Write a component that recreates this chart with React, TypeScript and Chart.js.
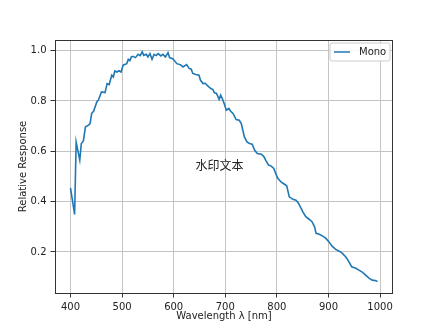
import React, { useEffect, useRef } from "react";
import { Chart, registerables } from "chart.js";

Chart.register(...registerables);

const wavelengths: number[] = [
  400, 408, 411, 418, 421, 425, 429, 435, 438, 441, 445, 451, 454, 460, 467, 471, 475, 480, 483, 486,
  490, 494, 498, 502, 509, 512, 515, 518, 521, 526, 531, 535, 539, 542, 547, 550, 554, 558, 562, 566,
  570, 575, 579, 584, 589, 592, 598, 602, 606, 613, 618, 625, 630, 634, 637, 643, 649, 652, 657, 661,
  666, 672, 676, 679, 683, 688, 691, 694, 699, 702, 707, 710, 715, 721, 727, 731, 737, 742, 747, 752,
  757, 762, 770, 775, 779, 784, 789, 794, 799, 802, 808, 814, 819, 824, 831, 837, 842, 847, 850, 856,
  863, 868, 873, 876, 882, 889, 895, 901, 907, 914, 921, 927, 934, 940, 945, 953, 959, 966, 972, 979,
  985, 992, 995,
];

const monoResponse: number[] = [
  0.455, 0.349, 0.637, 0.565, 0.631, 0.641, 0.697, 0.704, 0.71, 0.75, 0.76, 0.796, 0.803, 0.836, 0.833, 0.869, 0.865, 0.902, 0.895, 0.919,
  0.915, 0.92, 0.915, 0.942, 0.948, 0.965, 0.96, 0.975, 0.977, 0.972, 0.985, 0.98, 0.995, 0.981, 0.985, 0.975, 0.988, 0.965, 0.985, 0.98,
  0.988, 0.979, 0.985, 0.975, 0.992, 0.972, 0.968, 0.959, 0.948, 0.944, 0.935, 0.944, 0.929, 0.926, 0.909, 0.905, 0.902, 0.882, 0.869, 0.87,
  0.86, 0.849, 0.845, 0.832, 0.83, 0.806, 0.823, 0.81, 0.783, 0.763, 0.77, 0.76, 0.75, 0.726, 0.723, 0.71, 0.657, 0.637, 0.631, 0.628,
  0.604, 0.591, 0.588, 0.578, 0.562, 0.545, 0.541, 0.532, 0.505, 0.492, 0.478, 0.47, 0.463, 0.419, 0.409, 0.406, 0.393, 0.373, 0.36, 0.34,
  0.329, 0.32, 0.3, 0.274, 0.27, 0.263, 0.254, 0.24, 0.223, 0.21, 0.203, 0.194, 0.179, 0.16, 0.141, 0.135, 0.128, 0.119, 0.108, 0.095,
  0.088, 0.086, 0.082,
];

const xTicks: number[] = [400, 500, 600, 700, 800, 900, 1000];
const yTicks: number[] = [0.2, 0.4, 0.6, 0.8, 1.0];
const seriesLabel = "Mono";
const xTitle = "Wavelength \u03bb [nm]";
const yTitle = "Relative Response";
const watermark = "水印文本";

const FONT = "'DejaVu Sans', sans-serif";
const TEXT = "#222222";
const FS = 10;

export default function App() {
  const ref = useRef<HTMLCanvasElement | null>(null);

  useEffect(() => {
    if (!ref.current) return;

    const framePlugin = {
      id: "frameLegendWatermark",
      afterDraw(chart: any) {
        const { ctx, chartArea } = chart;
        ctx.save();
        // spines
        ctx.strokeStyle = "#333333";
        ctx.lineWidth = 1;
        ctx.strokeRect(
          Math.round(chartArea.left) + 0.5,
          Math.round(chartArea.top) + 0.5,
          Math.round(chartArea.right - chartArea.left) - 1,
          Math.round(chartArea.bottom - chartArea.top)
        );
        // legend
        const ds = chart.data.datasets[0];
        const bx = 330, by = 43, bw = 60, bh = 18, r = 2;
        ctx.beginPath();
        ctx.moveTo(bx + r, by);
        ctx.lineTo(bx + bw - r, by);
        ctx.quadraticCurveTo(bx + bw, by, bx + bw, by + r);
        ctx.lineTo(bx + bw, by + bh - r);
        ctx.quadraticCurveTo(bx + bw, by + bh, bx + bw - r, by + bh);
        ctx.lineTo(bx + r, by + bh);
        ctx.quadraticCurveTo(bx, by + bh, bx, by + bh - r);
        ctx.lineTo(bx, by + r);
        ctx.quadraticCurveTo(bx, by, bx + r, by);
        ctx.closePath();
        ctx.fillStyle = "rgba(255,255,255,0.85)";
        ctx.fill();
        ctx.strokeStyle = "#cccccc";
        ctx.lineWidth = 1;
        ctx.stroke();
        ctx.beginPath();
        ctx.moveTo(334, by + bh / 2);
        ctx.lineTo(350, by + bh / 2);
        ctx.strokeStyle = ds.borderColor;
        ctx.lineWidth = 1.5;
        ctx.stroke();
        ctx.fillStyle = TEXT;
        ctx.font = FS + "px " + FONT;
        ctx.textAlign = "left";
        ctx.textBaseline = "middle";
        ctx.fillText(ds.label, 359, by + bh / 2 + 0.5);
        // watermark
        ctx.font = "12px 'Noto Sans CJK SC', sans-serif";
        ctx.textAlign = "center";
        ctx.textBaseline = "middle";
        ctx.fillStyle = "#222222";
        ctx.fillText(watermark, 219.5, 165);
        ctx.restore();
      },
    };

    const chart = new Chart(ref.current, {
      type: "line",
      data: {
        datasets: [
          {
            label: seriesLabel,
            data: wavelengths.map((w, i) => ({ x: w, y: monoResponse[i] })),
            borderColor: "#1f77b4",
            backgroundColor: "#1f77b4",
            borderWidth: 1.6,
            pointRadius: 0,
            tension: 0,
            fill: false,
          },
        ],
      },
      options: {
        responsive: false,
        animation: false,
        events: [],
        layout: { padding: { top: 40, right: 46, left: 0, bottom: 0 } },
        plugins: {
          legend: { display: false },
          tooltip: { enabled: false },
        },
        scales: {
          x: {
            type: "linear",
            min: 370,
            max: 1025,
            afterBuildTicks: (scale: any) => {
              scale.ticks = xTicks.map((v) => ({ value: v }));
            },
            afterFit: (scale: any) => {
              scale.height = 37;
            },
            border: { display: false },
            grid: {
              color: "#c4c4c4",
              lineWidth: 1,
              tickColor: "#333333",
              tickLength: 4.5,
              drawTicks: true,
            },
            ticks: {
              color: TEXT,
              font: { family: FONT, size: FS },
              padding: 4,
              maxRotation: 0,
              callback: (v: any) => String(v),
            },
            title: {
              display: true,
              text: xTitle,
              color: TEXT,
              font: { family: FONT, size: FS },
              padding: { top: 0, bottom: 7.5 },
            },
          },
          y: {
            type: "linear",
            min: 0.037,
            max: 1.042,
            afterBuildTicks: (scale: any) => {
              scale.ticks = yTicks.map((v) => ({ value: v }));
            },
            afterFit: (scale: any) => {
              scale.width = 55;
            },
            border: { display: false },
            grid: {
              color: "#c4c4c4",
              lineWidth: 1,
              tickColor: "#333333",
              tickLength: 4.5,
              drawTicks: true,
            },
            ticks: {
              color: TEXT,
              font: { family: FONT, size: FS },
              padding: 4,
              callback: (v: any) => Number(v).toFixed(1),
            },
            title: {
              display: true,
              text: yTitle,
              color: TEXT,
              font: { family: FONT, size: FS },
              padding: { top: 17.5, bottom: 0 },
            },
          },
        },
      },
      plugins: [framePlugin],
    } as any);

    return () => chart.destroy();
  }, []);

  return (
    <div style={{ position: "fixed", left: 0, top: 0, width: 439, height: 330, background: "#fff" }}>
      <canvas ref={ref} width={439} height={330} style={{ width: 439, height: 330, display: "block" }} />
    </div>
  );
}
